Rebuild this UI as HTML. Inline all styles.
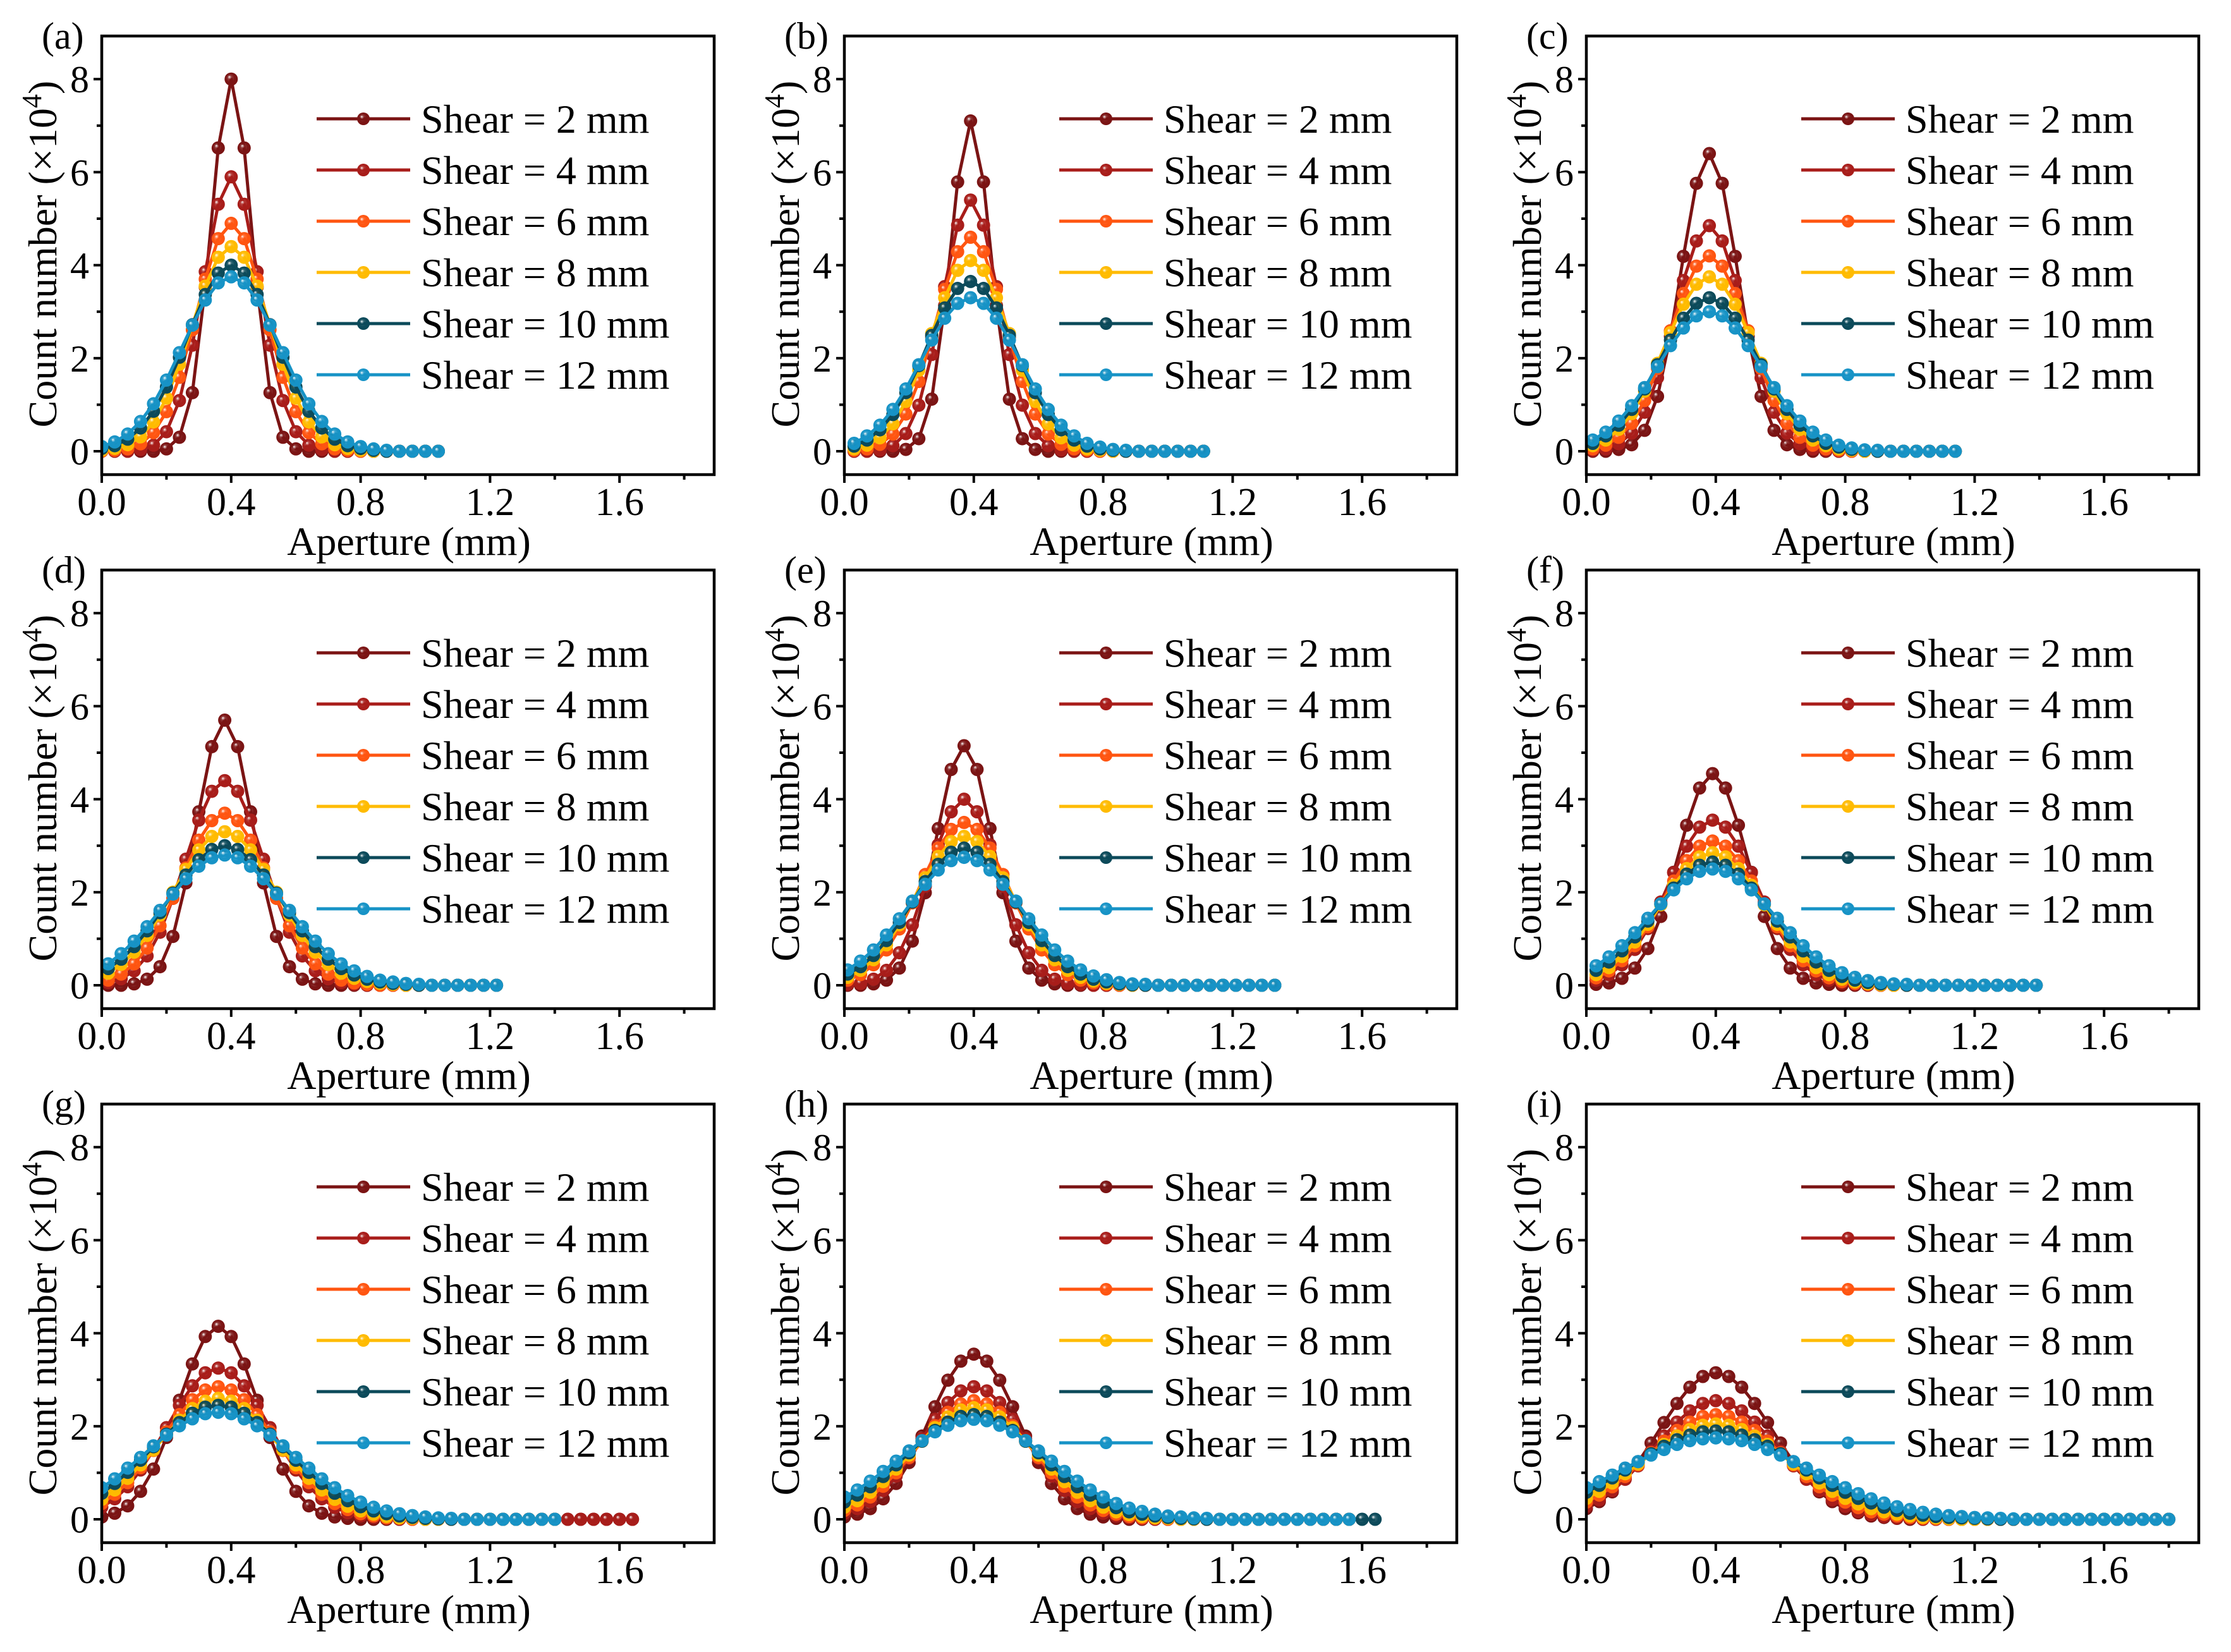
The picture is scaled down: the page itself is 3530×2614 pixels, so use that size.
<!DOCTYPE html>
<html><head><meta charset="utf-8"><style>
html,body{margin:0;padding:0;background:#fff;}
svg{display:block;font-family:"Liberation Serif","Times New Roman",serif;}
svg text{font-family:"Liberation Serif","Times New Roman",serif;fill:#000;}
</style></head><body>
<svg id="fig" xmlns="http://www.w3.org/2000/svg" width="3530" height="2614" viewBox="0 0 3530 2614" font-family="Liberation Serif, Times New Roman, serif">
<defs id="defs"></defs>
</svg>
<script>
// ---- data ----
const panelLabels = ["(a)","(b)","(c)","(d)","(e)","(f)","(g)","(h)","(i)"];
const seriesNames = ["Shear = 2 mm","Shear = 4 mm","Shear = 6 mm","Shear = 8 mm","Shear = 10 mm","Shear = 12 mm"];
const xTicks = [0,0.4,0.8,1.2,1.6];
const xTickLabels = ["0.0","0.4","0.8","1.2","1.6"];
const xMinorTicks = [0.2,0.6,1.0,1.4,1.8];
const yTicks = [0,2,4,6,8];
const yTickLabels = ["0","2","4","6","8"];
const yMinorTicks = [1,3,5,7];
const xStart = [0.00,0.03,0.02,0.02,0.01,0.03,0.00,0.00,0.00];
const xStep = 0.04;

const a2=[0,0,0,0,0,0.05,0.3,1.26,3.53,6.52,8,6.52,3.53,1.26,0.3,0.05,0,0,0,0,0,0,0,0,0,0,0];
const a4=[0,0,0,0.04,0.13,0.42,1.09,2.28,3.86,5.31,5.9,5.31,3.86,2.28,1.09,0.42,0.13,0.04,0,0,0,0,0,0,0,0,0];
const a6=[0,0.02,0.05,0.16,0.4,0.85,1.59,2.61,3.7,4.57,4.9,4.57,3.7,2.61,1.59,0.85,0.4,0.16,0.05,0.02,0,0,0,0,0,0,0];
const a8=[0.02,0.06,0.14,0.31,0.63,1.14,1.87,2.71,3.55,4.17,4.4,4.17,3.55,2.71,1.87,1.14,0.63,0.31,0.14,0.06,0.02,0,0,0,0,0,0];
const a10=[0.06,0.12,0.26,0.5,0.86,1.38,2.02,2.72,3.37,3.83,4,3.83,3.37,2.72,2.02,1.38,0.86,0.5,0.26,0.12,0.06,0.02,0,0,0,0,0];
const a12=[0.1,0.2,0.37,0.64,1.02,1.53,2.12,2.71,3.25,3.62,3.75,3.62,3.25,2.71,2.12,1.53,1.02,0.64,0.37,0.2,0.1,0.05,0.02,0,0,0,0];

const b2=[0,0,0,0,0.04,0.27,1.12,3.13,5.79,7.1,5.79,3.13,1.12,0.27,0.04,0,0,0,0,0,0,0,0,0,0,0,0,0];
const b4=[0,0,0.03,0.12,0.38,0.99,2.08,3.54,4.86,5.4,4.86,3.54,2.08,0.99,0.38,0.12,0.03,0,0,0,0,0,0,0,0,0,0,0];
const b6=[0.02,0.05,0.15,0.37,0.8,1.5,2.45,3.48,4.29,4.6,4.29,3.48,2.45,1.5,0.8,0.37,0.15,0.05,0.02,0,0,0,0,0,0,0,0,0];
const b8=[0.05,0.13,0.29,0.59,1.07,1.74,2.53,3.3,3.89,4.1,3.89,3.3,2.53,1.74,1.07,0.59,0.29,0.13,0.05,0.02,0,0,0,0,0,0,0,0];
const b10=[0.11,0.24,0.46,0.79,1.26,1.84,2.49,3.08,3.5,3.65,3.5,3.08,2.49,1.84,1.26,0.79,0.46,0.24,0.11,0.05,0.02,0,0,0,0,0,0,0];
const b12=[0.17,0.33,0.56,0.9,1.34,1.86,2.39,2.86,3.18,3.3,3.18,2.86,2.39,1.86,1.34,0.9,0.56,0.33,0.17,0.09,0.04,0.02,0,0,0,0,0,0];

const c2=[0,0,0.04,0.14,0.45,1.18,2.47,4.19,5.76,6.4,5.76,4.19,2.47,1.18,0.45,0.14,0.04,0,0,0,0,0,0,0,0,0,0,0,0];
const c4=[0.02,0.05,0.16,0.39,0.84,1.58,2.59,3.67,4.52,4.85,4.52,3.67,2.59,1.58,0.84,0.39,0.16,0.05,0.02,0,0,0,0,0,0,0,0,0,0];
const c6=[0.05,0.13,0.3,0.6,1.09,1.78,2.59,3.39,3.98,4.2,3.98,3.39,2.59,1.78,1.09,0.6,0.3,0.13,0.05,0.02,0,0,0,0,0,0,0,0,0];
const c8=[0.12,0.24,0.47,0.81,1.29,1.89,2.55,3.16,3.59,3.75,3.59,3.16,2.55,1.89,1.29,0.81,0.47,0.24,0.12,0.05,0.02,0,0,0,0,0,0,0,0];
const c10=[0.17,0.33,0.56,0.9,1.34,1.86,2.39,2.86,3.18,3.3,3.18,2.86,2.39,1.86,1.34,0.9,0.56,0.33,0.17,0.09,0.04,0.02,0,0,0,0,0,0,0];
const c12=[0.24,0.41,0.65,0.98,1.37,1.82,2.27,2.65,2.91,3,2.91,2.65,2.27,1.82,1.37,0.98,0.65,0.41,0.24,0.13,0.07,0.03,0.02,0,0,0,0,0,0];

const d2=[0,0,0.03,0.13,0.4,1.05,2.2,3.73,5.13,5.7,5.13,3.73,2.2,1.05,0.4,0.13,0.03,0,0,0,0,0,0,0,0,0,0,0,0,0,0];
const d4=[0.06,0.14,0.31,0.63,1.14,1.87,2.71,3.55,4.17,4.4,4.17,3.55,2.71,1.87,1.14,0.63,0.31,0.14,0.06,0.02,0,0,0,0,0,0,0,0,0,0,0];
const d6=[0.11,0.24,0.46,0.8,1.28,1.87,2.52,3.12,3.54,3.7,3.54,3.12,2.52,1.87,1.28,0.8,0.46,0.24,0.11,0.05,0.02,0,0,0,0,0,0,0,0,0,0];
const d8=[0.26,0.45,0.71,1.07,1.51,2,2.49,2.91,3.2,3.3,3.2,2.91,2.49,2,1.51,1.07,0.71,0.45,0.26,0.15,0.08,0.04,0.02,0,0,0,0,0,0,0,0];
const d10=[0.36,0.56,0.83,1.17,1.56,1.98,2.37,2.7,2.92,3,2.92,2.7,2.37,1.98,1.56,1.17,0.83,0.56,0.36,0.22,0.13,0.07,0.04,0.02,0,0,0,0,0,0,0];
const d12=[0.46,0.68,0.95,1.26,1.61,1.96,2.29,2.56,2.74,2.8,2.74,2.56,2.29,1.96,1.61,1.26,0.95,0.68,0.46,0.31,0.19,0.11,0.07,0.04,0.02,0,0,0,0,0,0];

const e2=[0,0,0.03,0.11,0.37,0.95,1.99,3.37,4.64,5.15,4.64,3.37,1.99,0.95,0.37,0.11,0.03,0,0,0,0,0,0,0,0,0,0,0,0,0,0,0,0,0];
const e4=[0.02,0.04,0.13,0.32,0.7,1.3,2.13,3.02,3.73,4,3.73,3.02,2.13,1.3,0.7,0.32,0.13,0.04,0.02,0,0,0,0,0,0,0,0,0,0,0,0,0,0,0];
const e6=[0.11,0.23,0.44,0.76,1.21,1.77,2.38,2.95,3.35,3.5,3.35,2.95,2.38,1.77,1.21,0.76,0.44,0.23,0.11,0.05,0.02,0,0,0,0,0,0,0,0,0,0,0,0,0];
const e8=[0.17,0.32,0.55,0.87,1.3,1.8,2.31,2.77,3.09,3.2,3.09,2.77,2.31,1.8,1.3,0.87,0.55,0.32,0.17,0.09,0.04,0.02,0,0,0,0,0,0,0,0,0,0,0,0];
const e10=[0.24,0.4,0.64,0.96,1.35,1.79,2.23,2.6,2.86,2.95,2.86,2.6,2.23,1.79,1.35,0.96,0.64,0.4,0.24,0.13,0.07,0.03,0.01,0,0,0,0,0,0,0,0,0,0,0];
const e12=[0.33,0.52,0.76,1.08,1.43,1.81,2.17,2.48,2.68,2.75,2.68,2.48,2.17,1.81,1.43,1.08,0.76,0.52,0.33,0.2,0.12,0.06,0.03,0.02,0,0,0,0,0,0,0,0,0,0];

const f2=[0.02,0.05,0.15,0.37,0.79,1.48,2.43,3.44,4.24,4.55,4.24,3.44,2.43,1.48,0.79,0.37,0.15,0.05,0.02,0,0,0,0,0,0,0,0,0,0,0,0,0,0,0,0];
const f4=[0.11,0.23,0.44,0.77,1.22,1.79,2.42,2.99,3.4,3.55,3.4,2.99,2.42,1.79,1.22,0.77,0.44,0.23,0.11,0.05,0.02,0,0,0,0,0,0,0,0,0,0,0,0,0,0];
const f6=[0.16,0.31,0.53,0.85,1.26,1.75,2.24,2.68,2.99,3.1,2.99,2.68,2.24,1.75,1.26,0.85,0.53,0.31,0.16,0.08,0.04,0.02,0,0,0,0,0,0,0,0,0,0,0,0,0];
const f8=[0.23,0.38,0.62,0.93,1.31,1.73,2.15,2.51,2.76,2.85,2.76,2.51,2.15,1.73,1.31,0.93,0.62,0.38,0.23,0.13,0.07,0.03,0.01,0,0,0,0,0,0,0,0,0,0,0,0];
const f10=[0.32,0.5,0.74,1.04,1.38,1.75,2.09,2.39,2.58,2.65,2.58,2.39,2.09,1.75,1.38,1.04,0.74,0.5,0.32,0.19,0.11,0.06,0.03,0.02,0,0,0,0,0,0,0,0,0,0,0];
const f12=[0.42,0.61,0.85,1.13,1.44,1.75,2.05,2.29,2.45,2.5,2.45,2.29,2.05,1.75,1.44,1.13,0.85,0.61,0.42,0.27,0.17,0.1,0.06,0.03,0.02,0,0,0,0,0,0,0,0,0,0];

const g2=[0.05,0.13,0.29,0.6,1.08,1.76,2.56,3.34,3.93,4.15,3.93,3.34,2.56,1.76,1.08,0.6,0.29,0.13,0.05,0.02,0,0,0,0,0,0,0,0,0,0,0,0,0,0,0,0,0,0,0,0,0,0];
const g4=[0.26,0.44,0.7,1.06,1.49,1.97,2.45,2.87,3.15,3.25,3.15,2.87,2.45,1.97,1.49,1.06,0.7,0.44,0.26,0.14,0.07,0.04,0.02,0,0,0,0,0,0,0,0,0,0,0,0,0,0,0,0,0,0,0];
const g6=[0.34,0.54,0.79,1.11,1.48,1.88,2.25,2.57,2.78,2.85,2.78,2.57,2.25,1.88,1.48,1.11,0.79,0.54,0.34,0.21,0.12,0.07,0.03,0.02,0,0,0,0,0,0,0,0,0,0,0,0];
const g8=[0.43,0.63,0.88,1.17,1.49,1.82,2.13,2.38,2.54,2.6,2.54,2.38,2.13,1.82,1.49,1.17,0.88,0.63,0.43,0.28,0.18,0.11,0.06,0.03,0.02,0,0,0,0,0,0,0,0,0,0,0];
const g10=[0.56,0.77,1.01,1.27,1.56,1.83,2.08,2.28,2.41,2.45,2.41,2.28,2.08,1.83,1.56,1.27,1.01,0.77,0.56,0.4,0.27,0.18,0.12,0.07,0.04,0.02,0.01,0,0,0,0,0,0,0,0,0];
const g12=[0.68,0.87,1.1,1.33,1.58,1.81,2.01,2.16,2.27,2.3,2.27,2.16,2.01,1.81,1.58,1.33,1.1,0.87,0.68,0.51,0.37,0.26,0.18,0.12,0.08,0.05,0.03,0.02,0,0,0,0,0,0,0,0];

const h2=[0.05,0.11,0.23,0.44,0.77,1.22,1.79,2.42,2.99,3.4,3.55,3.4,2.99,2.42,1.79,1.22,0.77,0.44,0.23,0.11,0.05,0.02,0,0,0,0,0,0,0,0,0,0,0,0,0,0,0,0,0,0];
const h4=[0.13,0.23,0.38,0.62,0.93,1.31,1.73,2.15,2.51,2.76,2.85,2.76,2.51,2.15,1.73,1.31,0.93,0.62,0.38,0.23,0.13,0.07,0.03,0.01,0,0,0,0,0,0,0,0,0,0,0,0,0,0,0,0];
const h6=[0.19,0.31,0.48,0.71,1,1.33,1.68,2.01,2.3,2.48,2.55,2.48,2.3,2.01,1.68,1.33,1,0.71,0.48,0.31,0.19,0.11,0.06,0.03,0.02,0,0,0,0,0,0,0,0,0,0,0,0,0,0,0];
const h8=[0.26,0.4,0.58,0.81,1.08,1.38,1.68,1.97,2.2,2.35,2.4,2.35,2.2,1.97,1.68,1.38,1.08,0.81,0.58,0.4,0.26,0.16,0.1,0.06,0.03,0.02,0,0,0,0,0,0,0,0,0,0,0,0,0,0];
const h10=[0.37,0.52,0.7,0.92,1.17,1.43,1.68,1.91,2.09,2.21,2.25,2.21,2.09,1.91,1.68,1.43,1.17,0.92,0.7,0.52,0.37,0.25,0.16,0.11,0.07,0.04,0.02,0.01,0,0,0,0,0,0,0,0,0,0,0,0,0,0];
const h12=[0.48,0.63,0.82,1.03,1.25,1.47,1.69,1.88,2.02,2.12,2.15,2.12,2.02,1.88,1.69,1.47,1.25,1.03,0.82,0.63,0.48,0.34,0.24,0.17,0.11,0.07,0.05,0.03,0.02,0,0,0,0,0,0,0,0,0,0,0];

const i2=[0.23,0.38,0.59,0.88,1.23,1.64,2.08,2.49,2.84,3.07,3.15,3.07,2.84,2.49,2.08,1.64,1.23,0.88,0.59,0.38,0.23,0.14,0.07,0.04,0.02,0,0,0,0,0,0,0,0,0,0,0,0,0,0,0,0,0,0,0,0,0];
const i4=[0.28,0.42,0.62,0.86,1.15,1.46,1.79,2.09,2.33,2.49,2.55,2.49,2.33,2.09,1.79,1.46,1.15,0.86,0.62,0.42,0.28,0.17,0.1,0.06,0.03,0.02,0,0,0,0,0,0,0,0,0,0,0,0,0,0,0,0,0,0,0,0];
const i6=[0.37,0.52,0.7,0.92,1.17,1.43,1.68,1.91,2.09,2.21,2.25,2.21,2.09,1.91,1.68,1.43,1.17,0.92,0.7,0.52,0.37,0.25,0.16,0.11,0.07,0.04,0.02,0.01,0,0,0,0,0,0,0,0,0,0,0,0,0,0,0,0,0,0];
const i8=[0.45,0.6,0.78,0.98,1.19,1.4,1.61,1.79,1.93,2.02,2.05,2.02,1.93,1.79,1.61,1.4,1.19,0.98,0.78,0.6,0.45,0.33,0.23,0.16,0.11,0.07,0.04,0.03,0.01,0,0,0,0,0,0,0,0,0,0,0,0,0,0,0,0,0];
const i10=[0.58,0.73,0.89,1.06,1.24,1.41,1.57,1.71,1.81,1.88,1.9,1.88,1.81,1.71,1.57,1.41,1.24,1.06,0.89,0.73,0.58,0.45,0.35,0.26,0.19,0.13,0.09,0.06,0.04,0.03,0.02,0.01,0,0,0,0,0,0,0,0,0,0,0,0,0,0];
const i12=[0.68,0.81,0.95,1.1,1.24,1.38,1.5,1.61,1.69,1.73,1.75,1.73,1.69,1.61,1.5,1.38,1.24,1.1,0.95,0.81,0.68,0.55,0.44,0.35,0.27,0.21,0.15,0.11,0.08,0.06,0.04,0.03,0.02,0.01,0,0,0,0,0,0,0,0,0,0,0,0];

const panelSeries = [
  [a2,a4,a6,a8,a10,a12],[b2,b4,b6,b8,b10,b12],[c2,c4,c6,c8,c10,c12],
  [d2,d4,d6,d8,d10,d12],[e2,e4,e6,e8,e10,e12],[f2,f4,f6,f8,f10,f12],
  [g2,g4,g6,g8,g10,g12],[h2,h4,h6,h8,h10,h12],[i2,i4,i6,i8,i10,i12]
];

// ---- styling / layout ----
const colors = ["#7b1414","#a81d1a","#ff5511","#ffbb00","#0c4a5a","#1793c6"];
const colLeft = [161,1336,2510];
const rowTop = [57,902,1747];
const W = 969, H = 694;
const X_MIN = 0, X_MAX = W/512;
const Y_ZERO_OFF = 657, Y_PER = 73.6;
const FONT = '"Liberation Serif", "Times New Roman", serif';

const NS = "http://www.w3.org/2000/svg";
const svg = document.getElementById('fig');
const defs = document.getElementById('defs');
function mk(tag, attrs, parent){
  const e = document.createElementNS(NS, tag);
  for (const k in attrs) e.setAttribute(k, attrs[k]);
  if (tag === 'text') e.style.fontFamily = FONT;
  if (parent) parent.appendChild(e);
  return e;
}
colors.forEach((c,i)=>{
  const g = mk('radialGradient',{id:'ball'+i,cx:'0.5',cy:'0.5',r:'0.55',fx:'0.35',fy:'0.32'},defs);
  mk('stop',{offset:'0','stop-color':'#ffffff'},g);
  mk('stop',{offset:'0.28','stop-color':c,'stop-opacity':'0.85'},g);
  mk('stop',{offset:'0.6','stop-color':c},g);
  mk('stop',{offset:'1','stop-color':c},g);
});

panelLabels.forEach((lab, p)=>{
  const L = colLeft[p%3], T = rowTop[Math.floor(p/3)];
  const sx = v => L + (v - X_MIN) / (X_MAX - X_MIN) * W;
  const sy = v => T + Y_ZERO_OFF - v * Y_PER;
  const g = mk('g',{},svg);
  
  

  const clip = mk('clipPath',{id:'clip'+p},defs);
  mk('rect',{x:L,y:T,width:W,height:H},clip);

  const plot = mk('g',{'clip-path':'url(#clip'+p+')'},g);
  
  
  panelSeries[p].forEach((vals, si)=>{
    const sg = mk('g',{},plot);
    
    
    const pts = vals.map((v,k)=>[sx(xStart[p] + k*xStep), sy(v)]);
    const line = mk('polyline',{points:pts.map(q=>q[0].toFixed(1)+','+q[1].toFixed(1)).join(' '),fill:'none',stroke:colors[si],'stroke-width':5,'stroke-linejoin':'round'},sg);
    
    
    pts.forEach(q=>{
      const c = mk('circle',{cx:q[0].toFixed(1),cy:q[1].toFixed(1),r:10.5,fill:'url(#ball'+si+')'},sg);
      
      
    });
  });

  const fr = mk('rect',{x:L,y:T,width:W,height:H,fill:'none',stroke:'#000','stroke-width':4.5},g);
  
  

  const xa = mk('g',{},g);
  
  
  xTicks.forEach((v,i)=>{
    mk('line',{x1:sx(v),x2:sx(v),y1:T+H,y2:T+H+13,stroke:'#000','stroke-width':4},xa);
    const t = mk('text',{x:sx(v),y:T+H+64,'font-size':62,'text-anchor':'middle'},xa);
    t.textContent = xTickLabels[i];
    
    
  });
  xMinorTicks.forEach(v=>{
    mk('line',{x1:sx(v),x2:sx(v),y1:T+H,y2:T+H+8,stroke:'#000','stroke-width':4},xa);
  });
  const xt = mk('text',{x:L+486,y:T+H+127,'font-size':64,'text-anchor':'middle'},xa);
  xt.textContent = 'Aperture (mm)';
  
  

  const ya = mk('g',{},g);
  
  
  yTicks.forEach((v,i)=>{
    mk('line',{x1:L-13,x2:L,y1:sy(v),y2:sy(v),stroke:'#000','stroke-width':4},ya);
    const t = mk('text',{x:L-20,y:sy(v)+21,'font-size':60,'text-anchor':'end'},ya);
    t.textContent = yTickLabels[i];
    
    
  });
  yMinorTicks.forEach(v=>{
    mk('line',{x1:L-8,x2:L,y1:sy(v),y2:sy(v),stroke:'#000','stroke-width':4},ya);
  });
  const cy = T + 345;
  const yt = mk('text',{x:0,y:0,'font-size':64,'text-anchor':'middle',transform:'translate('+(L-72)+','+cy+') rotate(-90)'},ya);
  
  
  const t1 = mk('tspan',{},yt); t1.textContent = 'Count number (\u00d710';
  const t2 = mk('tspan',{dy:-24,'font-size':44},yt); t2.textContent = '4';
  const t3 = mk('tspan',{dy:24},yt); t3.textContent = ')';

  const pl = mk('text',{x:L-95,y:T+20,'font-size':60},g);
  pl.textContent = lab;
  
  

  const lg = mk('g',{},g);
  
  
  seriesNames.forEach((nm,si)=>{
    const ly = T + 131 + si*81;
    const e = mk('g',{},lg);
    
    
    mk('line',{x1:L+340,x2:L+488,y1:ly,y2:ly,stroke:colors[si],'stroke-width':5},e);
    mk('circle',{cx:L+414,cy:ly,r:10,fill:'url(#ball'+si+')'},e);
    const t = mk('text',{x:L+505,y:ly+22,'font-size':64},e);
    t.textContent = nm;
  });
});
</script>
</body></html>
